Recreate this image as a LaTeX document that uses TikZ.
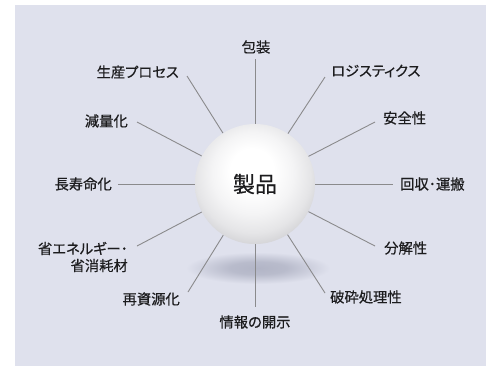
\documentclass[tikz,border=0pt]{standalone}
\usepackage{fontspec}
\setmainfont{Noto Sans CJK JP}[RawFeature=+palt, FakeBold=0.5]
\usetikzlibrary{positioning}

\definecolor{bg}{RGB}{223,225,237}
\definecolor{spoke}{RGB}{138,138,140}
\definecolor{ink}{RGB}{28,28,30}
\definecolor{shadowc}{RGB}{178,181,198}

% soft sphere: highlight slightly above and left of centre (25bp = rim)
\pgfdeclareradialshading{sphere}{\pgfpoint{-1.5bp}{7bp}}{%
  color(0bp)=(white);
  color(9bp)=(white);
  color(17bp)=(rgb,255:red,244;green,244;blue,245);
  color(24bp)=(rgb,255:red,229;green,229;blue,231);
  color(29bp)=(rgb,255:red,210;green,210;blue,213);
  color(35bp)=(rgb,255:red,190;green,190;blue,194);
  color(50bp)=(rgb,255:red,180;green,180;blue,184)}

% blurred cast shadow under the sphere
\pgfdeclareradialshading{castshadow}{\pgfpoint{0bp}{0bp}}{%
  color(0bp)=(shadowc);
  color(10bp)=(shadowc!85!bg);
  color(18bp)=(shadowc!40!bg);
  color(25bp)=(bg);
  color(50bp)=(bg)}

\tikzset{
  lbl/.style={font=\fontsize{14.3bp}{17bp}\selectfont, text=ink, inner sep=0pt},
  spokeline/.style={draw=spoke, line width=0.9bp},
}

\begin{document}
\begin{tikzpicture}[x=1bp, y=-1bp]
  \useasboundingbox (0,0) rectangle (486,367);
  \fill[bg] (15,5) rectangle (486,366);

  % shadow
  \shade[shading=castshadow] (258,268) ellipse [x radius=72, y radius=16];

  % central product
  \node[circle, minimum size=120bp, inner sep=0pt, shading=sphere,
        font=\fontsize{22bp}{24bp}\selectfont, text=ink] (ball) at (255,184) {製品};

  % labels
  \node[lbl] (l1)  at (256,47) {包装};
  \node[lbl, anchor=west] (l2)  at (331,71)  {ロジスティクス};
  \node[lbl, anchor=west] (l3)  at (383,118) {安全性};
  \node[lbl, anchor=west] (l4)  at (400,184) {回収･運搬};
  \node[lbl, anchor=west] (l5)  at (384,248) {分解性};
  \node[lbl, anchor=west] (l6)  at (330,297) {破砕処理性};
  \node[lbl] (l7)  at (255,322) {情報の開示};
  \node[lbl, anchor=east] (l8)  at (180,299) {再資源化};
  \node[lbl, anchor=east, align=right] (l9) at (128,257) {省エネルギー･\\省消耗材};
  \node[lbl, anchor=east] (l10) at (112,184) {長寿命化};
  \node[lbl, anchor=east] (l11) at (128,121) {減量化};
  \node[lbl, anchor=east] (l12) at (179,72)  {生産プロセス};

  % outer ends of the spokes
  \coordinate (e1)  at (255,59);
  \coordinate (e2)  at (325,77);
  \coordinate (e3)  at (375,122);
  \coordinate (e4)  at (393,184);
  \coordinate (e5)  at (375,246);
  \coordinate (e6)  at (325,293);
  \coordinate (e7)  at (255,307);
  \coordinate (e8)  at (188,292);
  \coordinate (e9)  at (137,246);
  \coordinate (e10) at (118,184);
  \coordinate (e11) at (137,122);
  \coordinate (e12) at (187,76);

  \foreach \i in {1,...,12} {
    \draw[spokeline] (ball) -- (e\i);
  }
\end{tikzpicture}
\end{document}
